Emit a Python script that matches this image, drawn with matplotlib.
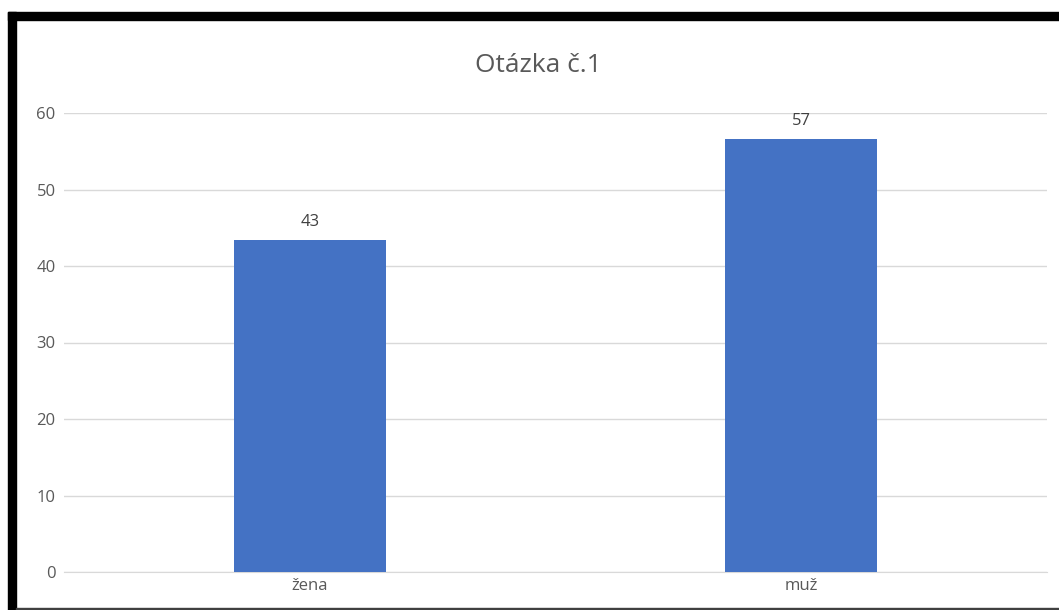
import matplotlib.pyplot as plt
from matplotlib.patches import Rectangle

categories = ["žena", "muž"]
values = [43.4, 56.6]
y_ticks = [0, 10, 20, 30, 40, 50, 60]

W, H = 1059, 610
fig = plt.figure(figsize=(W / 100, H / 100), dpi=100)
plt.rcParams["font.family"] = ["Open Sans", "DejaVu Sans"]

# plot area in pixel coords
left, right, top, bottom = 64, 1047, 113, 572
ax = fig.add_axes([left / W, 1 - bottom / H, (right - left) / W, (bottom - top) / H])

x = range(len(categories))
bars = ax.bar(x, values, width=0.31, color="#4472c4", zorder=3)

for b, v in zip(bars, values):
    ax.annotate(f"{v:.0f}", (b.get_x() + b.get_width() / 2, v),
                xytext=(0, 7), textcoords="offset points",
                ha="center", va="bottom", fontsize=12, color="#404040")

ax.set_xlim(-0.5, len(categories) - 0.5)
ax.set_ylim(0, 60)
ax.set_yticks(y_ticks)
ax.set_xticks(list(x))
ax.set_xticklabels(categories)
ax.tick_params(axis="both", length=0, colors="#595959", labelsize=12)
ax.tick_params(axis="y", pad=6)
ax.tick_params(axis="x", pad=4)
ax.grid(axis="y", color="#d9d9d9", linewidth=1, zorder=0)
for s in ["top", "right", "left"]:
    ax.spines[s].set_visible(False)
ax.spines["bottom"].set_color("#d9d9d9")

fig.text(538 / W, 1 - 65 / H, "Otázka č.1", ha="center", va="center",
         fontsize=19, color="#595959")

# black frame from the screenshot
fig.patches.append(Rectangle((8 / W, 1 - 20 / H), 1 - 8 / W, 8 / H,
                             transform=fig.transFigure, color="black"))
fig.patches.append(Rectangle((8 / W, 0), 8 / W, 1 - 12 / H,
                             transform=fig.transFigure, color="black"))
fig.patches.append(Rectangle((16 / W, 0), 1, 2 / H,
                             transform=fig.transFigure, color="#404040"))

fig.savefig("out.png", dpi=100)
